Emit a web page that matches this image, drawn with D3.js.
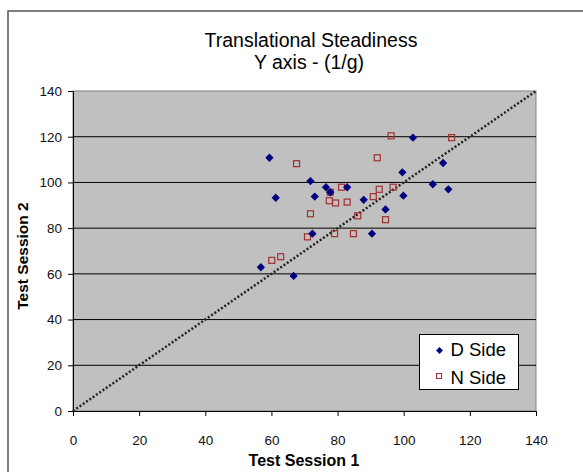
<!DOCTYPE html>
<html>
<head>
<meta charset="utf-8">
<script src="https://cdn.jsdelivr.net/npm/d3@7"></script>
<style>
  body { margin: 0; background: #fff; }
  text { font-family: "Liberation Sans", Arial, sans-serif; }
</style>
</head>
<body>
<svg id="chart" width="583" height="472"></svg>
<script>
// values
var dSideX = [59.4, 61.3, 56.8, 66.7, 102.8, 111.9, 99.6, 71.8, 108.8, 76.5, 82.9, 113.5, 77.8, 73.1, 87.9, 99.9, 94.5, 72.4, 90.4]
var dSideY = [110.8, 93.3, 62.9, 59.1, 119.6, 108.5, 104.4, 100.6, 99.2, 97.9, 97.9, 97.0, 95.7, 93.8, 92.4, 94.2, 88.2, 77.6, 77.6]

var nSideX = [67.6, 60.1, 62.8, 96.2, 114.5, 92.0, 81.2, 92.6, 96.8, 77.8, 77.5, 79.4, 82.9, 90.8, 71.8, 86.1, 94.5, 70.9, 79.1, 84.8]
var nSideY = [108.2, 65.9, 67.5, 120.4, 119.6, 110.8, 97.9, 97.0, 97.9, 95.7, 92.0, 91.0, 91.4, 93.8, 86.3, 85.4, 83.7, 76.2, 77.6, 77.6]

var xTicks = [0, 20, 40, 60, 80, 100, 120, 140]
var yTicks = [0, 20, 40, 60, 80, 100, 120, 140]
var gridTicks = [20, 40, 60, 80, 100, 120]
var seriesNames = ['D Side', 'N Side']

var svg = d3.select('#chart')

var plotLeft = 73, plotRight = 536, plotTop = 91, plotBottom = 411

var x = d3.scaleLinear().domain([0, 140]).range([plotLeft, plotRight])
var y = d3.scaleLinear().domain([0, 140]).range([plotBottom, plotTop])

// outer chart border
svg.append('rect')
    .attr('x', 8).attr('y', 11)
    .attr('width', 580).attr('height', 464)
    .attr('fill', 'none')
    .attr('stroke', '#555')
    .attr('stroke-width', 1.5)

// title
svg.append('text')
    .attr('x', 311).attr('y', 47)
    .attr('text-anchor', 'middle')
    .style('font-size', '19.5px')
    .text('Translational Steadiness')
svg.append('text')
    .attr('x', 309).attr('y', 69)
    .attr('text-anchor', 'middle')
    .style('font-size', '19.5px')
    .text('Y axis - (1/g)')

// plot area
svg.append('rect')
    .attr('x', plotLeft).attr('y', plotTop)
    .attr('width', plotRight - plotLeft).attr('height', plotBottom - plotTop)
    .attr('fill', '#c0c0c0')
    .attr('stroke', '#808080')
    .attr('stroke-width', 1)

svg.append('g').selectAll('line')
    .data(gridTicks)
    .enter().append('line')
    .attr('x1', plotLeft).attr('x2', plotRight)
    .attr('y1', function(d) { return y(d) })
    .attr('y2', function(d) { return y(d) })
    .attr('stroke', '#000')
    .attr('stroke-width', 1)

// axes
svg.append('g')
    .attr('transform', 'translate(0,' + plotBottom + ')')
    .call(d3.axisBottom(x).tickValues(xTicks).tickSize(5).tickSizeOuter(0).tickPadding(19))
svg.append('g')
    .attr('transform', 'translate(' + plotLeft + ',0)')
    .call(d3.axisLeft(y).tickValues(yTicks).tickSize(5).tickSizeOuter(0).tickPadding(6))

svg.selectAll('.tick text')
    .style('font-size', '13.5px')
    .style('font-family', '"Liberation Sans", Arial, sans-serif')
    .attr('fill', '#111')

// axis titles
svg.append('text')
    .attr('x', 304).attr('y', 466)
    .attr('text-anchor', 'middle')
    .style('font-size', '16px')
    .style('font-weight', 'bold')
    .text('Test Session 1')
svg.append('text')
    .attr('transform', 'translate(27.5,256) rotate(-90)')
    .attr('text-anchor', 'middle')
    .style('font-size', '15.5px')
    .style('font-weight', 'bold')
    .text('Test Session 2')

// y = x reference line
svg.append('line')
    .attr('x1', x(0)).attr('y1', y(0))
    .attr('x2', x(140)).attr('y2', y(140))
    .attr('stroke', '#222')
    .attr('stroke-width', 2.5)
    .attr('stroke-dasharray', '2,2')

var diamond = d3.symbol().type(d3.symbolDiamond2).size(44)

// N side squares
svg.append('g').selectAll('rect')
    .data(nSideX)
    .enter().append('rect')
    .attr('x', function(d) { return x(d) - 3 })
    .attr('y', function(d, i) { return y(nSideY[i]) - 3 })
    .attr('width', 6).attr('height', 6)
    .attr('fill', 'none')
    .attr('stroke', '#a03030')
    .attr('stroke-width', 1.2)

// D side diamonds
svg.append('g').selectAll('path')
    .data(dSideX)
    .enter().append('path')
    .attr('d', diamond)
    .attr('transform', function(d, i) { return 'translate(' + x(d) + ',' + y(dSideY[i]) + ')' })
    .attr('fill', '#000080')

// legend
var legend = svg.append('g')
legend.append('rect')
    .attr('x', 419.5).attr('y', 334.5)
    .attr('width', 99).attr('height', 55)
    .attr('fill', '#fff')
    .attr('stroke', '#000')
    .attr('stroke-width', 1)

legend.append('path')
    .attr('d', d3.symbol().type(d3.symbolDiamond2).size(30))
    .attr('transform', 'translate(439.5,350.5)')
    .attr('fill', '#000080')
legend.append('rect')
    .attr('x', 436.5).attr('y', 373.5)
    .attr('width', 5).attr('height', 5)
    .attr('fill', 'none')
    .attr('stroke', '#a03030')
    .attr('stroke-width', 1)

legend.selectAll('text')
    .data(seriesNames)
    .enter().append('text')
    .attr('x', 450.5)
    .attr('y', function(d, i) { return 356 + i * 27.5 })
    .style('font-size', '18.5px')
    .text(function(d) { return d })
</script>
</body>
</html>
